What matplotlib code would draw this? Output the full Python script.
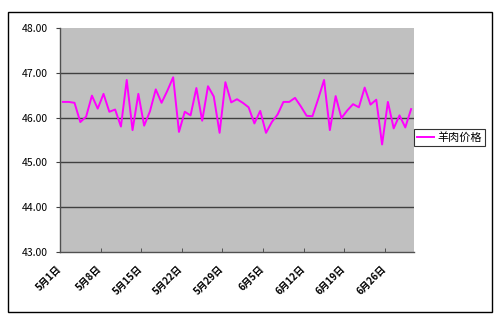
import matplotlib
matplotlib.use("Agg")
import matplotlib.pyplot as plt
import matplotlib.transforms as mtransforms
from matplotlib.patches import Rectangle
import numpy as np

plt.rcParams['font.family'] = ['Noto Sans CJK SC', 'DejaVu Sans']

#data (one point per day, 5月1日 - 6月30日)
prices = [46.35, 46.35, 46.33, 45.90, 46.02, 46.49, 46.20, 46.53, 46.13, 46.18,
          45.80, 46.84, 45.72, 46.53, 45.82, 46.14, 46.63, 46.33, 46.60, 46.90,
          45.68, 46.13, 46.05, 46.66, 45.93, 46.70, 46.47, 45.66, 46.79, 46.34,
          46.41, 46.33, 46.23, 45.87, 46.15, 45.66, 45.90, 46.07, 46.35, 46.35,
          46.44, 46.25, 46.04, 46.03, 46.42, 46.84, 45.72, 46.48, 45.99, 46.16,
          46.30, 46.23, 46.67, 46.29, 46.40, 45.40, 46.35, 45.76, 46.05, 45.78,
          46.19]
tick_labels = ["5月1日", "5月8日", "5月15日", "5月22日", "5月29日",
               "6月5日", "6月12日", "6月19日", "6月26日"]
series_name = "羊肉价格"
y_ticks = [43, 44, 45, 46, 47, 48]

fig = plt.figure(figsize=(5, 3.24), dpi=100)
ax = fig.add_axes([0.12, 0.2222, 0.708, 0.6914])

x = np.arange(len(prices))
ax.plot(x, prices, color="#FF00FF", linewidth=1.4, label=series_name)

ax.set_facecolor("#C0C0C0")
ax.set_xlim(-0.5, len(prices) - 0.5)
ax.set_ylim(43, 48)

#gridlines
for yv in y_ticks[1:-1]:
    ax.axhline(yv, color="#404040", linewidth=1, zorder=1)

ax.set_yticks(y_ticks)
ax.set_yticklabels(["%.2f" % v for v in y_ticks], fontsize=7.5)
ax.tick_params(axis="y", length=3, direction="out", color="#404040", pad=6)

#labels at category centres, tick marks between groups of 7
ax.set_xticks(np.arange(0, len(prices), 7))
ax.set_xticklabels(tick_labels, rotation=45, ha="right", va="top",
                   rotation_mode="anchor", fontsize=7, fontweight="bold")
ax.tick_params(axis="x", which="major", length=0, pad=5)
shift = mtransforms.ScaledTranslation(-7 / 100, -5 / 100, fig.dpi_scale_trans)
for lbl in ax.get_xticklabels():
    lbl.set_transform(lbl.get_transform() + shift)
ax.set_xticks(np.arange(-0.5, len(prices), 7)[1:], minor=True)
ax.tick_params(axis="x", which="minor", length=3, direction="in", color="#404040")

for side in ["top", "right"]:
    ax.spines[side].set_visible(False)
for side in ["left", "bottom"]:
    ax.spines[side].set_color("#505050")
    ax.spines[side].set_linewidth(1)

leg = fig.legend(loc="center left", bbox_to_anchor=(0.828, 0.575), fontsize=8,
                 frameon=True, fancybox=False, borderpad=0.3, handlelength=1.5,
                 handletextpad=0.3, borderaxespad=0)
leg.get_frame().set_edgecolor("black")
leg.get_frame().set_linewidth(0.8)

#outer chart border
fig.patches.append(Rectangle((8 / 500, 1 - 312 / 324), 484 / 500, 300 / 324,
                             transform=fig.transFigure, fill=False,
                             edgecolor="black", linewidth=1))

fig.savefig("out.png", dpi=100)
